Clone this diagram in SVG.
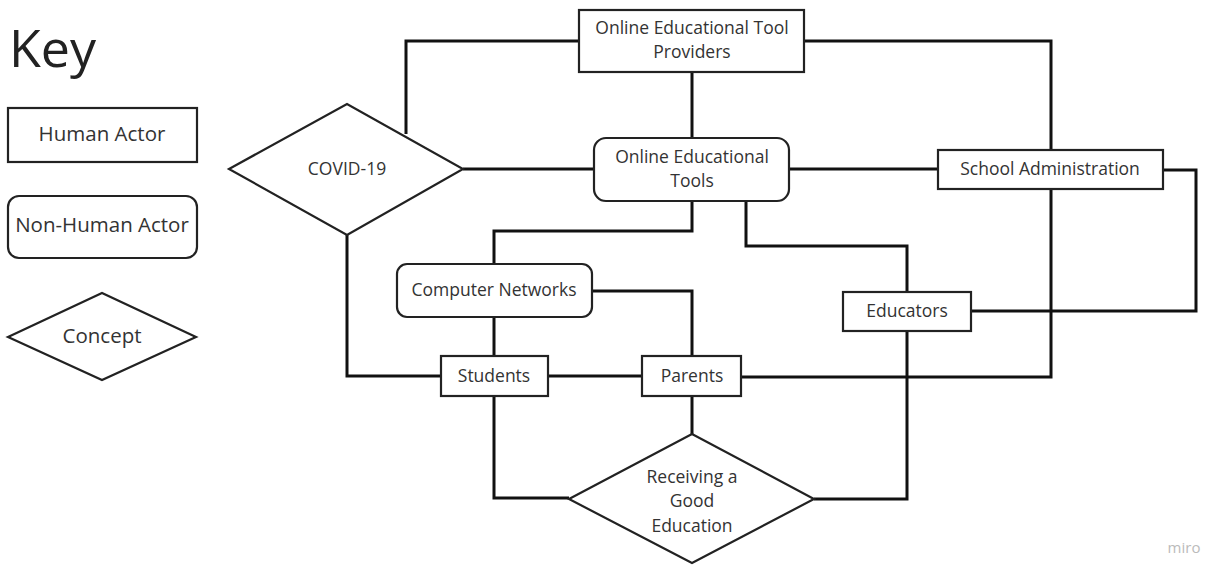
<svg xmlns="http://www.w3.org/2000/svg" width="1211" height="565" viewBox="0 0 1211 565">
<style>
.n{fill:#fff;stroke:#222;stroke-width:2.2}
.t{font-family:"Open Sans","Liberation Sans",sans-serif;font-size:17.5px;fill:#333;text-anchor:middle}
.k{font-family:"Open Sans","Liberation Sans",sans-serif;font-size:20.5px;fill:#333;text-anchor:middle}
.c{fill:none;stroke:#111;stroke-width:3;stroke-linejoin:miter}
</style>
<rect width="1211" height="565" fill="#fff"/>
<g id="key">
<text x="9" y="67" font-family="'Open Sans','Liberation Sans',sans-serif" font-size="52" fill="#222">Key</text>
<g id="key-human"><rect class="n" x="8" y="108" width="189" height="54"/><text class="k" x="102" y="141">Human Actor</text></g>
<g id="key-nonhuman"><rect class="n" x="8" y="196" width="189" height="62" rx="11"/><text class="k" x="102" y="232">Non-Human Actor</text></g>
<g id="key-concept"><polygon class="n" points="8,337 102,293 196,337 102,380"/><text class="k" x="102" y="343">Concept</text></g>
</g>
<g id="connectors">
<polyline class="c" points="406,134 406,41 579,41"/>
<polyline class="c" points="804,41 1051,41 1051,150"/>
<polyline class="c" points="1051,189 1051,377 741,377"/>
<line class="c" x1="463" y1="169" x2="594" y2="169"/>
<line class="c" x1="789" y1="169" x2="938" y2="169"/>
<line class="c" x1="692" y1="72" x2="692" y2="138"/>
<polyline class="c" points="692,201 692,231 494,231 494,264"/>
<polyline class="c" points="746,201 746,246 907,246 907,292"/>
<polyline class="c" points="347,235 347,376 441,376"/>
<line class="c" x1="494" y1="317" x2="494" y2="356"/>
<polyline class="c" points="592,291 692,291 692,356"/>
<line class="c" x1="548" y1="376" x2="642" y2="376"/>
<polyline class="c" points="494,396 494,498 569,498"/>
<line class="c" x1="692" y1="396" x2="692" y2="434"/>
<polyline class="c" points="907,331 907,499 814,499"/>
<polyline class="c" points="971,311 1196,311 1196,170 1163,170"/>
</g>
<g id="covid"><polygon class="n" points="229,169 347,104 463,169 347,235"/><text class="t" x="347" y="175">COVID-19</text></g>
<g id="providers"><rect class="n" x="579" y="10" width="225" height="62"/><text class="t" x="692" y="34">Online Educational Tool</text><text class="t" x="692" y="58">Providers</text></g>
<g id="tools"><rect class="n" x="594" y="138" width="195" height="63" rx="12"/><text class="t" x="692" y="163">Online Educational</text><text class="t" x="692" y="187">Tools</text></g>
<g id="school"><rect class="n" x="938" y="150" width="225" height="39"/><text class="t" x="1050" y="175">School Administration</text></g>
<g id="educators"><rect class="n" x="843" y="292" width="128" height="39"/><text class="t" x="907" y="317">Educators</text></g>
<g id="networks"><rect class="n" x="397" y="264" width="195" height="53" rx="10"/><text class="t" x="494" y="296">Computer Networks</text></g>
<g id="students"><rect class="n" x="441" y="356" width="107" height="40"/><text class="t" x="494" y="382">Students</text></g>
<g id="parents"><rect class="n" x="642" y="356" width="99" height="40"/><text class="t" x="692" y="382">Parents</text></g>
<g id="education"><polygon class="n" points="569,499 692,434 814,499 692,563"/><text class="t" x="692" y="483">Receiving a</text><text class="t" x="692" y="507">Good</text><text class="t" x="692" y="532">Education</text></g>
<text x="1184" y="553" font-family="'Open Sans','Liberation Sans',sans-serif" font-size="15" fill="#bbb" text-anchor="middle">miro</text>
</svg>
